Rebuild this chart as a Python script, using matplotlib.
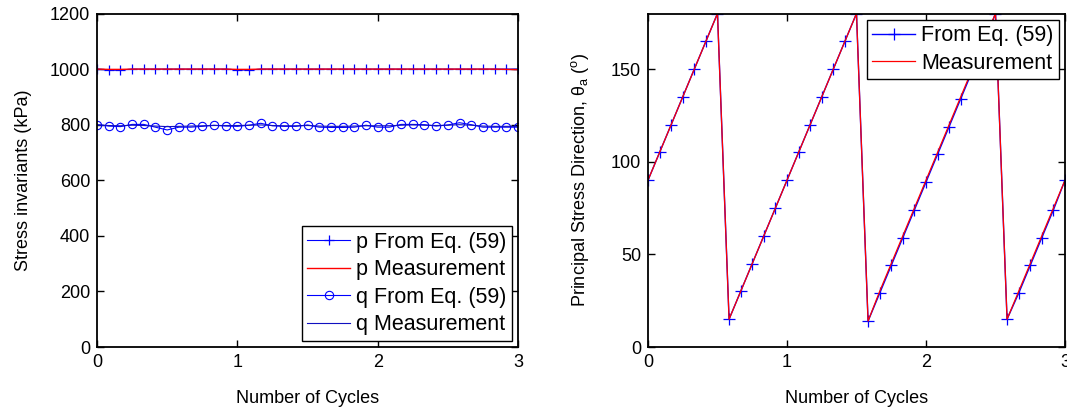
import matplotlib
matplotlib.use("Agg")
import matplotlib.pyplot as plt

# --- data ---
cycles = [0, 0.0833, 0.1667, 0.25, 0.3333, 0.4167, 0.5, 0.5833, 0.6667, 0.75, 0.8333, 0.9167,
          1.0, 1.0833, 1.1667, 1.25, 1.3333, 1.4167, 1.5, 1.5833, 1.6667, 1.75, 1.8333, 1.9167,
          2.0, 2.0833, 2.1667, 2.25, 2.3333, 2.4167, 2.5, 2.5833, 2.6667, 2.75, 2.8333, 2.9167, 3.0]

p_eq = [1000, 996, 996, 1000, 1000, 1000, 1000, 1000, 1000, 1000, 1000, 1000,
        997, 996, 1000, 1000, 1000, 1000, 1000, 1000, 1000, 1000, 1000, 1000,
        1000, 1000, 1000, 1000, 1000, 1000, 1000, 1000, 1000, 1000, 1000, 1000, 1000]
p_meas = [1000, 999, 999, 1000, 1000, 1000, 1000, 1000, 1000, 1000, 1000, 1000,
          999, 999, 1000, 1000, 1000, 1000, 1000, 1000, 1000, 1000, 1000, 1000,
          1000, 1000, 1000, 1000, 1000, 1000, 1000, 1000, 1000, 1000, 1000, 999, 998]

q_eq = [800, 795, 793, 801, 801, 791, 781, 791, 791, 794, 798, 795,
        794, 798, 805, 796, 794, 794, 799, 791, 790, 790, 791, 798,
        791, 791, 801, 801, 800, 795, 799, 807, 800, 791, 791, 791, 791]
q_meas = [799, 797, 796, 798, 797, 795, 793, 794, 795, 796, 797, 797,
          797, 798, 799, 797, 796, 796, 797, 795, 794, 794, 795, 796,
          796, 796, 798, 799, 798, 797, 798, 800, 798, 795, 794, 794, 794]

theta_eq = [90, 105, 120, 135, 150, 165, 180, 15, 30, 45, 60, 75,
            90, 105, 120, 135, 150, 165, 180, 14, 29, 44, 59, 74,
            89, 104, 119, 134, 149, 164, 180, 15, 29, 44, 59, 74, 90]
theta_meas = [90, 105, 120, 135, 150, 165, 180, 15, 30, 45, 60, 75,
              90, 105, 120, 135, 150, 165, 180, 14, 30, 45, 60, 75,
              90, 105, 120, 135, 150, 165, 180, 15, 30, 45, 60, 75, 90]

plt.rcParams["font.family"] = ["Liberation Sans", "DejaVu Sans"]
plt.rcParams["mathtext.fontset"] = "custom"
plt.rcParams["mathtext.rm"] = "Liberation Sans"
plt.rcParams["mathtext.it"] = "Liberation Sans"

fig = plt.figure(figsize=(10.67, 4.07), dpi=100)
ax1 = fig.add_axes([0.0909, 0.1474, 0.3946, 0.8194])
ax2 = fig.add_axes([0.6073, 0.1474, 0.3908, 0.8194])

# ---- left: stress invariants ----
ax1.plot(cycles, p_eq, color="blue", marker="+", ms=7, mew=0.9, lw=0.8, label="p From Eq. (59)")
ax1.plot(cycles, p_meas, color="red", lw=1.0, label="p Measurement")
ax1.plot(cycles, q_eq, color="blue", marker="o", ms=6, mfc="none", mew=0.8, lw=0.8,
         label="q From Eq. (59)")
ax1.plot(cycles, q_meas, color="#1010c0", lw=0.8, label="q Measurement")
ax1.set_xlim(0, 3)
ax1.set_ylim(0, 1200)
ax1.set_xticks([0, 1, 2, 3])
ax1.set_yticks(range(0, 1201, 200))
ax1.set_xlabel("Number of Cycles", fontsize=13, labelpad=14)
ax1.set_ylabel("Stress invariants (kPa)", fontsize=13, labelpad=13)
leg1 = ax1.legend(loc="lower right", fontsize=15.5, handlelength=2.0, handletextpad=0.25,
                  labelspacing=0.3, borderpad=0.25, borderaxespad=0.3, fancybox=False,
                  framealpha=1, edgecolor="black")
leg1.get_frame().set_linewidth(1.0)

# ---- right: principal stress direction ----
ax2.plot(cycles, theta_eq, color="blue", marker="+", ms=8, mew=0.9, lw=1.0, label="From Eq. (59)")
ax2.plot(cycles, theta_meas, color="red", lw=0.9, label="Measurement")
ax2.set_xlim(0, 3)
ax2.set_ylim(0, 180)
ax2.set_xticks([0, 1, 2, 3])
ax2.set_yticks([0, 50, 100, 150])
ax2.set_xlabel("Number of Cycles", fontsize=13, labelpad=14)
ax2.set_ylabel(r"Principal Stress Direction, $\theta_a$ ($^o$)", fontsize=13, labelpad=14)
leg2 = ax2.legend(loc="upper right", fontsize=15.5, handlelength=2.0, handletextpad=0.25,
                  labelspacing=0.3, borderpad=0.25, borderaxespad=0.3, fancybox=False,
                  framealpha=1, edgecolor="black")
leg2.get_frame().set_linewidth(1.0)

for ax in (ax1, ax2):
    for s in ax.spines.values():
        s.set_linewidth(1.3)
    ax.tick_params(direction="in", top=True, right=True, length=5, width=1,
                   labelsize=13, pad=5)

fig.savefig("out.png", dpi=100)
